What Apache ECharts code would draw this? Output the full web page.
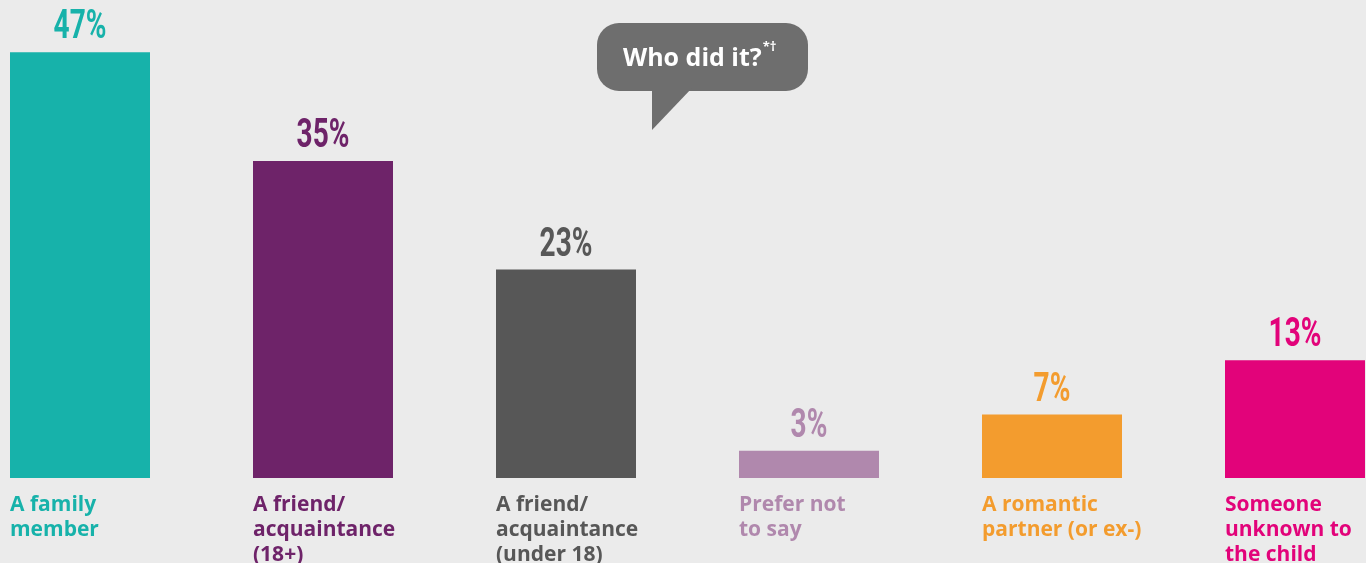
<!DOCTYPE html>
<html>
<head>
<meta charset="utf-8">
<script src="https://cdn.jsdelivr.net/npm/echarts@6/dist/echarts.min.js"></script>
<style>
html,body{margin:0;padding:0;background:#ebebeb;}
#chart{width:1366px;height:563px;}
</style>
</head>
<body>
<div id="chart"></div>
<script>
var categories = ['A family\nmember', 'A friend/\nacquaintance\n(18+)', 'A friend/\nacquaintance\n(under 18)', 'Prefer not\nto say', 'A romantic\npartner (or ex-)', 'Someone\nunknown to\nthe child'];
var values = [47, 35, 23, 3, 7, 13];
var colors = ['#17b2aa', '#6e2369', '#575757', '#b088ad', '#f39c2e', '#e2037a'];
var bubbleTitle = 'Who did it?';
var bubbleMark = '*†';

var BAR_W = 140;

function renderItem(params, api) {
  var idx = api.value(0);
  var v = api.value(1);
  var base = api.coord([idx, 0]);
  var top = api.coord([idx, v]);
  var cx = base[0];
  var color = colors[params.dataIndex];
  return {
    type: 'group',
    children: [
      {type: 'rect', shape: {x: cx - BAR_W / 2, y: top[1], width: BAR_W, height: base[1] - top[1]}, style: {fill: color}},
      {type: 'text', x: cx, y: top[1] - 4, scaleX: 0.70, style: {
        text: v + '%', fill: color, font: 'bold 40px Roboto, sans-serif',
        textAlign: 'center', textVerticalAlign: 'bottom'}},
      {type: 'text', x: cx - BAR_W / 2, y: base[1] + 15, style: {
        text: categories[params.dataIndex], fill: color, font: 'bold 21px "Open Sans", sans-serif',
        lineHeight: 25, textAlign: 'left', textVerticalAlign: 'top'}}
    ]
  };
}

var chart = echarts.init(document.getElementById('chart'));
chart.setOption({
  backgroundColor: '#ebebeb',
  animation: false,
  grid: {left: 80, right: 71, top: 25, bottom: 85, containLabel: false},
  xAxis: {
    type: 'category', data: categories, boundaryGap: false,
    axisLine: {show: false}, axisTick: {show: false}, axisLabel: {show: false}, splitLine: {show: false}
  },
  yAxis: {
    type: 'value', min: 0, max: 50, show: false, splitLine: {show: false}
  },
  series: [
    {
      type: 'custom',
      renderItem: renderItem,
      encode: {x: 0, y: 1},
      clip: false,
      data: values.map(function (v, i) { return [i, v]; })
    }
  ],
  graphic: [
    {type: 'rect', shape: {x: 597, y: 23, width: 211, height: 68, r: 22}, style: {fill: '#6e6e6e'}, silent: true},
    {type: 'polygon', shape: {points: [[652, 88], [692, 88], [652, 130]]}, style: {fill: '#6e6e6e'}, silent: true},
    {type: 'text', x: 623, y: 56, silent: true, style: {
      text: '{a|' + bubbleTitle + '}{b|' + bubbleMark + '}',
      textVerticalAlign: 'middle', textAlign: 'left',
      rich: {
        a: {fill: '#ffffff', fontFamily: '"Open Sans", sans-serif', fontWeight: 'bold', fontSize: 25, lineHeight: 30, verticalAlign: 'bottom'},
        b: {fill: '#ffffff', fontFamily: '"Open Sans", sans-serif', fontWeight: 'bold', fontSize: 13, lineHeight: 30, verticalAlign: 'top', padding: [0, 0, 0, 1]}
      }
    }}
  ]
});
</script>
</body>
</html>
